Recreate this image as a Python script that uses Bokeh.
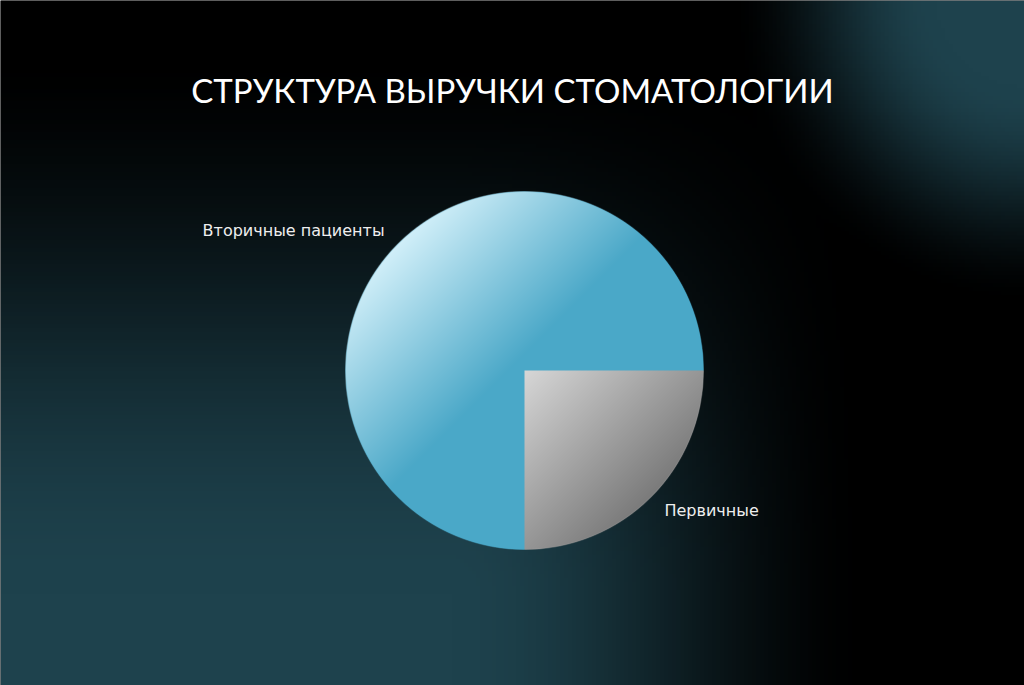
import numpy as np
from bokeh.plotting import figure
from bokeh.models import Label, ColumnDataSource
from bokeh.core.properties import value
from bokeh.embed import file_html
from bokeh.resources import INLINE

# ---------------- data ----------------
title_text = "СТРУКТУРА ВЫРУЧКИ СТОМАТОЛОГИИ"
categories = ["Первичные", "Вторичные пациенты"]
values = [25, 75]
base_colors = ["#a0a0a0", "#4aa8c8"]
# gradient stops (t along slice bbox diagonal, top-left -> bottom-right)
grad_stops = [
    [(0.0, (215, 215, 215)), (1.0, (85, 85, 85))],
    [(0.0, (240, 252, 255)), (0.12, (220, 245, 253)), (0.48, (74, 168, 200)), (1.0, (74, 168, 200))],
]

# ---------------- layout ----------------
W, H = 1024, 685
R_PX = 179.0
CX, CY = 524.0, 370.0  # pie centre, px from top-left
x0 = -CX / R_PX
x1 = (W - CX) / R_PX
y1 = CY / R_PX
y0 = -(H - CY) / R_PX

p = figure(width=W, height=H, x_range=(x0, x1), y_range=(y0, y1),
           output_backend="svg", toolbar_location=None,
           x_axis_location=None, y_axis_location=None, min_border=0,
           background_fill_color="black", border_fill_color="black",
           outline_line_color=None)
p.grid.visible = False


def smoothstep(e0, e1, v):
    s = np.clip((v - e0) / (e1 - e0), 0.0, 1.0)
    return s * s * (3 - 2 * s)


# ---------------- background glow ----------------
nx, ny = 256, 172
ii = np.arange(nx)
jj = np.arange(ny)
PX = (ii[None, :] + 0.5) * W / nx
PY = H - (jj[:, None] + 0.5) * H / ny  # y from top, row 0 = bottom
hgt = H - PY
w1 = (1 - smoothstep(450, 880, PX)) * (1 - smoothstep(90, 650, hgt))
d2 = np.sqrt(((1024 - PX) / 300.0) ** 2 + ((PY + 10) / 320.0) ** 2)
w2 = 1 - smoothstep(0.3, 1.0, d2)
wb = 1 - (1 - w1) * (1 - w2)
teal = np.array([30, 66, 77], dtype=float)
bg = np.empty((ny, nx), dtype=np.uint32)
bv = bg.view(np.uint8).reshape((ny, nx, 4))
bv[..., 0] = np.clip(teal[0] * wb, 0, 255).astype(np.uint8)
bv[..., 1] = np.clip(teal[1] * wb, 0, 255).astype(np.uint8)
bv[..., 2] = np.clip(teal[2] * wb, 0, 255).astype(np.uint8)
bv[..., 3] = 255
p.image_rgba(image=[bg], x=x0, y=y0, dw=x1 - x0, dh=y1 - y0)

# ---------------- pie geometry from data ----------------
vals = np.array(values, dtype=float)
total = vals.sum()
cum_end = np.cumsum(vals)
cum_start = cum_end - vals
start = -cum_end / total * 2 * np.pi   # clockwise from east
end = -cum_start / total * 2 * np.pi
mid = (start + end) / 2

src = ColumnDataSource(dict(cat=categories, val=values, start=start, end=end, color=base_colors))
p.wedge(x=0, y=0, radius=1, start_angle="start", end_angle="end",
        fill_color="color", line_color=None, source=src)

# gradient fill layer for the slices
N = 358
cxs = -1 + (np.arange(N) + 0.5) * 2.0 / N
X = np.tile(cxs[None, :], (N, 1))
Y = np.tile(cxs[:, None], (1, N))
dist = np.sqrt(X ** 2 + Y ** 2) * R_PX
alpha = np.clip(R_PX - dist + 0.5, 0, 1)
theta = np.arctan2(Y, X)
R = np.zeros((N, N)); G = np.zeros((N, N)); B = np.zeros((N, N))
for k in range(len(values)):
    a, b = start[k], end[k]
    inside = np.mod(theta - a, 2 * np.pi) <= (b - a) + 1e-9
    ang = np.linspace(a, b, 400)
    bxs = np.concatenate([[0.0], np.cos(ang)])
    bys = np.concatenate([[0.0], np.sin(ang)])
    xmin, xmax, ymin, ymax = bxs.min(), bxs.max(), bys.min(), bys.max()
    t = ((X - xmin) / (xmax - xmin) + (ymax - Y) / (ymax - ymin)) / 2
    t = np.clip(t, 0, 1)
    ts = [s[0] for s in grad_stops[k]]
    for ch, arr in enumerate((R, G, B)):
        cs = [s[1][ch] for s in grad_stops[k]]
        arr[inside] = np.interp(t[inside], ts, cs)
img = np.empty((N, N), dtype=np.uint32)
iv = img.view(np.uint8).reshape((N, N, 4))
iv[..., 0] = np.clip(R, 0, 255).astype(np.uint8)
iv[..., 1] = np.clip(G, 0, 255).astype(np.uint8)
iv[..., 2] = np.clip(B, 0, 255).astype(np.uint8)
iv[..., 3] = (alpha * 255).astype(np.uint8)
p.image_rgba(image=[img], x=-1, y=-1, dw=2, dh=2)

# ---------------- labels ----------------
LR = 1.106
lab = ColumnDataSource(dict(
    x=LR * np.cos(mid), y=LR * np.sin(mid), text=categories,
    align=["left" if np.cos(m) > 0 else "right" for m in mid]))
p.text(x="x", y="y", text="text", source=lab, text_align="align",
       text_baseline="middle", text_color="#eeeeee",
       text_font=value("DejaVu Sans"), text_font_size="16px")

# ---------------- title ----------------
title = Label(x=(W / 2 - CX) / R_PX, y=(CY - 89) / R_PX, text=title_text,
              text_align="center", text_baseline="middle", text_color="white",
              text_font="Lato", text_font_size="33px", text_font_style="normal")
p.add_layout(title)

open("out.html", "w").write(file_html(p, INLINE))
